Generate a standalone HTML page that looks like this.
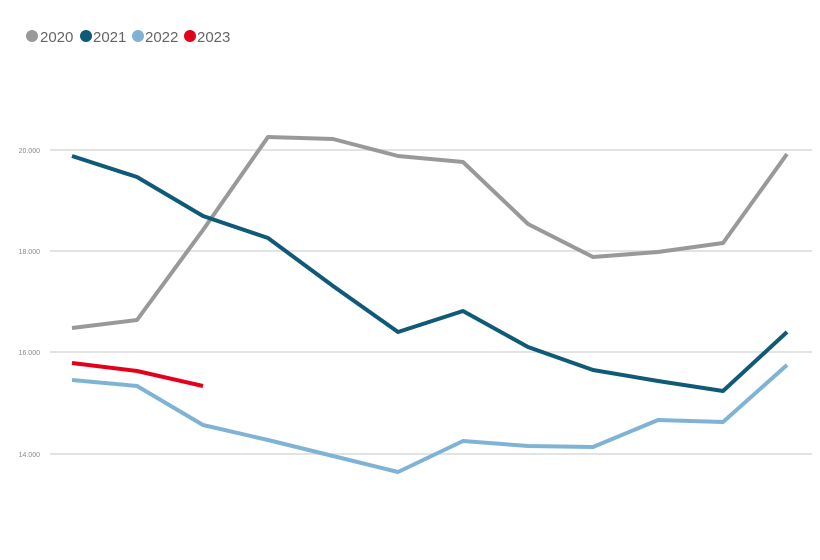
<!DOCTYPE html>
<html><head><style>body{margin:0;background:#fff}svg{display:block}</style></head>
<body>
<svg width="820" height="560" xmlns="http://www.w3.org/2000/svg" font-family="Liberation Sans, sans-serif">
<rect width="820" height="560" fill="#fff"/>
<g fill="#666" font-size="15">
<circle cx="32" cy="36" r="6" fill="#999"/><text x="40" y="42">2020</text>
<circle cx="86" cy="36" r="6" fill="#0e5a78"/><text x="93" y="42">2021</text>
<circle cx="138" cy="36" r="6" fill="#7fb3d5"/><text x="145" y="42">2022</text>
<circle cx="190" cy="36" r="6" fill="#e3001b"/><text x="197" y="42">2023</text>
</g>
<g stroke="#e3e3e3" stroke-width="2">
<line x1="50" y1="150" x2="812" y2="150"/><line x1="50" y1="251" x2="812" y2="251"/>
<line x1="50" y1="352" x2="812" y2="352"/><line x1="50" y1="454" x2="812" y2="454"/>
</g>
<g fill="#888" font-size="7" text-anchor="end">
<text x="40" y="153">20.000</text><text x="40" y="254">18.000</text>
<text x="40" y="355">16.000</text><text x="40" y="457">14.000</text>
</g>
<g fill="none" stroke-width="4" stroke-linejoin="round" stroke-linecap="butt">
<polyline stroke="#999" points="72,328 137,320 203,230 268,137 333,139 398,156 463,162 528,224 593,257 658,252 723,243 787,154"/>
<polyline stroke="#0e5a78" points="72,156 137,177 203,216 268,238 333,286 398,332 463,311 528,347 593,370 658,381 723,391 787,332"/>
<polyline stroke="#7fb3d5" points="72,380 137,386 203,425 268,440 333,456 398,472 463,441 528,446 593,447 658,420 723,422 787,365"/>
<polyline stroke="#e3001b" points="72,363 137,371 203,386"/>
</g>
</svg>
</body></html>
